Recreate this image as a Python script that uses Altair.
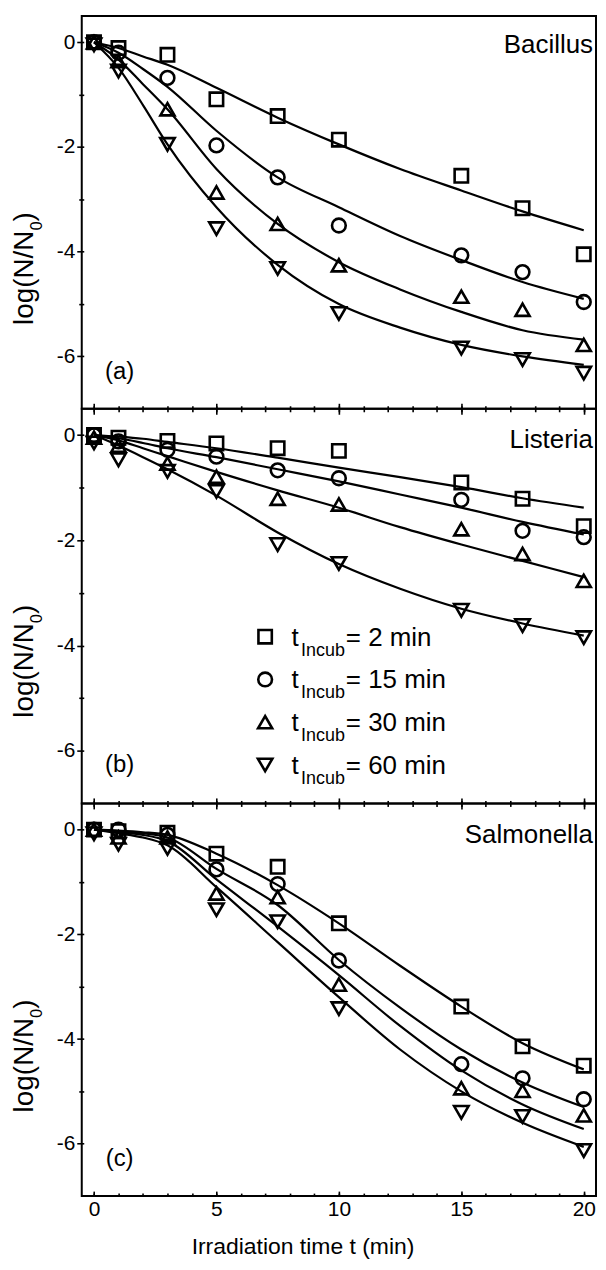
import altair as alt
import pandas as pd

FONT = "Liberation Sans"

times = [0, 1, 3, 5, 7.5, 10, 15, 17.5, 20]
fit_times = [0, 1, 2, 3, 5, 7.5, 10, 12.5, 15, 17.5, 20]
series = ["2 min", "15 min", "30 min", "60 min"]
legend_labels = ["= 2 min", "= 15 min", "= 30 min", "= 60 min"]
shapes = ["square", "circle", "triangle-up", "triangle-down"]
marker_sizes = [180, 210, 280, 280]
x_major = [0, 5, 10, 15, 20]
x_minor = list(range(0, 21))
y_major = [-6, -4, -2, 0]
y_minor = [-5, -3, -1]

# (a) Bacillus
bac_2 = [0.0, -0.11, -0.24, -1.09, -1.41, -1.86, -2.55, -3.17, -4.05]
bac_15 = [0.0, -0.20, -0.68, -1.97, -2.58, -3.50, -4.07, -4.39, -4.96]
bac_30 = [0.0, -0.36, -1.28, -2.87, -3.47, -4.26, -4.86, -5.11, -5.78]
bac_60 = [-0.05, -0.55, -1.95, -3.56, -4.32, -5.18, -5.84, -6.06, -6.32]
bac_fit_2 = [0, -0.11, -0.27, -0.43, -0.87, -1.44, -1.95, -2.42, -2.83, -3.23, -3.59]
bac_fit_15 = [0, -0.20, -0.51, -0.85, -1.69, -2.58, -3.15, -3.70, -4.16, -4.58, -4.90]
bac_fit_30 = [0, -0.33, -0.80, -1.28, -2.42, -3.47, -4.20, -4.72, -5.15, -5.50, -5.68]
bac_fit_60 = [0, -0.49, -1.20, -1.95, -3.15, -4.25, -5.00, -5.45, -5.78, -6.00, -6.16]

# (b) Listeria
lis_2 = [0.0, -0.05, -0.11, -0.16, -0.25, -0.30, -0.90, -1.21, -1.73]
lis_15 = [0.0, -0.12, -0.28, -0.41, -0.67, -0.82, -1.23, -1.82, -1.94]
lis_30 = [-0.05, -0.20, -0.54, -0.79, -1.21, -1.32, -1.79, -2.26, -2.77]
lis_60 = [-0.15, -0.47, -0.69, -1.07, -2.08, -2.44, -3.33, -3.62, -3.85]
lis_fit_2 = [0, -0.03, -0.07, -0.13, -0.25, -0.43, -0.62, -0.80, -0.99, -1.20, -1.38]
lis_fit_15 = [0, -0.06, -0.15, -0.25, -0.42, -0.65, -0.88, -1.13, -1.38, -1.65, -1.89]
lis_fit_30 = [0, -0.10, -0.25, -0.40, -0.70, -1.05, -1.38, -1.75, -2.08, -2.39, -2.70]
lis_fit_60 = [0, -0.20, -0.42, -0.65, -1.15, -1.85, -2.45, -2.92, -3.30, -3.58, -3.81]

# (c) Salmonella
sal_2 = [0.0, -0.03, -0.06, -0.46, -0.71, -1.79, -3.38, -4.14, -4.51]
sal_15 = [0.0, 0.0, -0.10, -0.76, -1.04, -2.50, -4.48, -4.75, -5.15]
sal_30 = [0.0, -0.15, -0.15, -1.22, -1.29, -2.96, -4.94, -4.99, -5.46]
sal_60 = [-0.08, -0.28, -0.36, -1.53, -1.76, -3.42, -5.40, -5.48, -6.13]
sal_fit_2 = [0, -0.02, -0.05, -0.10, -0.46, -1.06, -1.79, -2.60, -3.38, -4.08, -4.58]
sal_fit_15 = [0, -0.03, -0.07, -0.15, -0.75, -1.44, -2.49, -3.40, -4.20, -4.83, -5.30]
sal_fit_30 = [0, -0.05, -0.10, -0.22, -0.95, -1.85, -2.78, -3.75, -4.60, -5.25, -5.72]
sal_fit_60 = [0, -0.07, -0.15, -0.30, -1.10, -2.15, -3.20, -4.20, -5.00, -5.60, -6.06]

W = 516


def long_df(xs, cols):
    rows = []
    for s, ys in zip(series, cols):
        for x, y in zip(xs, ys):
            rows.append({"t": x, "v": y, "series": s})
    return pd.DataFrame(rows)


def txt(text, x, y, size, align="left", baseline="alphabetic", angle=0):
    return alt.Chart(pd.DataFrame({"s": [text]})).mark_text(
        align=align, baseline=baseline, angle=angle, font=FONT,
        fontSize=size, color="black"
    ).encode(x=alt.value(x), y=alt.value(y), text="s:N")


shape_scale = alt.Scale(domain=series, range=shapes)
size_scale = alt.Scale(domain=series, range=marker_sizes)


def panel(name, name_y, tag, pts, fits, H, bottom=False, legend=False):
    xs = alt.Scale(domain=[-0.5, 20.5], nice=False, zero=False)
    ys = alt.Scale(domain=[-7, 0.5], nice=False, zero=False)
    common = dict(title=None, domain=False, grid=False, tickColor="black",
                  tickWidth=1.6, labelFont=FONT, labelColor="black",
                  labelFlush=False, labelOverlap=False)
    if bottom:
        xmaj = alt.Axis(orient="bottom", values=x_major, tickSize=5, offset=-5,
                        labelFontSize=21, labelPadding=2, **common)
        xmin = alt.Axis(orient="bottom", values=x_minor, tickSize=3, offset=-3,
                        labels=False, **common)
    else:
        xmaj = alt.Axis(orient="bottom", values=x_major, tickSize=11, offset=-5.5,
                        labels=False, **common)
        xmin = alt.Axis(orient="bottom", values=x_minor, tickSize=6, offset=-3,
                        labels=False, **common)
    ymaj = alt.Axis(orient="left", values=y_major, tickSize=7, offset=-2,
                    labelExpr="toString(datum.value)", labelFontSize=21,
                    labelPadding=2, **common)
    ymin = alt.Axis(orient="left", values=y_minor, tickSize=5, offset=-2,
                    labels=False, **common)

    lines = alt.Chart(long_df(fit_times, fits)).mark_line(
        color="black", strokeWidth=2.2, interpolate="monotone"
    ).encode(
        x=alt.X("t:Q", scale=xs, axis=xmaj),
        y=alt.Y("v:Q", scale=ys, axis=ymaj),
        detail="series:N",
    )
    points = alt.Chart(long_df(times, pts)).mark_point(
        filled=False, color="black", strokeWidth=2.6, opacity=1
    ).encode(
        x=alt.X("t:Q", scale=xs, axis=xmin),
        y=alt.Y("v:Q", scale=ys, axis=ymin),
        shape=alt.Shape("series:N", scale=shape_scale, legend=None),
        size=alt.Size("series:N", scale=size_scale, legend=None),
    )
    layers = [lines, points,
              txt(name, 513, name_y, 26, align="right"),
              txt(tag, 38, 357, 24, align="center", baseline="middle"),
              txt("log(N/N", -48.7, 310, 28, angle=270),
              txt("0", -39.7, 310 - 95, 16, angle=270),
              txt(")", -48.7, 310 - 95 - 9, 28, angle=270)]
    if legend:
        for i, (s, lab) in enumerate(zip(series, legend_labels)):
            cy = 228.7 + 42.9 * i
            layers.append(
                alt.Chart(pd.DataFrame({"series": [s]})).mark_point(
                    filled=False, color="black", strokeWidth=2.6, opacity=1
                ).encode(
                    x=alt.value(184), y=alt.value(cy),
                    shape=alt.Shape("series:N", scale=shape_scale, legend=None),
                    size=alt.Size("series:N", scale=size_scale, legend=None),
                )
            )
            layers.append(txt("t", 210.5, cy + 9, 26))
            layers.append(txt("Incub", 220, cy + 19, 18))
            layers.append(txt(lab, 265, cy + 9, 26))
    if bottom:
        layers.append(txt("Irradiation time t (min)", 222, H + 58, 23, align="center"))
    return alt.layer(*layers).resolve_axis(x="independent", y="independent").properties(
        width=W, height=H)


pa = panel("Bacillus", 37, "(a)", [bac_2, bac_15, bac_30, bac_60],
           [bac_fit_2, bac_fit_15, bac_fit_30, bac_fit_60], 394)
pb = panel("Listeria", 39.4, "(b)", [lis_2, lis_15, lis_30, lis_60],
           [lis_fit_2, lis_fit_15, lis_fit_30, lis_fit_60], 396, legend=True)
pc = panel("Salmonella", 39.7, "(c)", [sal_2, sal_15, sal_30, sal_60],
           [sal_fit_2, sal_fit_15, sal_fit_30, sal_fit_60], 394, bottom=True)

chart = alt.vconcat(pa, pb, pc, spacing=0, bounds="flush").properties(
    padding={"left": 2, "top": 5, "right": 0, "bottom": 0}
).configure(font=FONT).configure_view(stroke="black", strokeWidth=2)

chart.save("out.html", embed_options={"renderer": "svg", "actions": False})
